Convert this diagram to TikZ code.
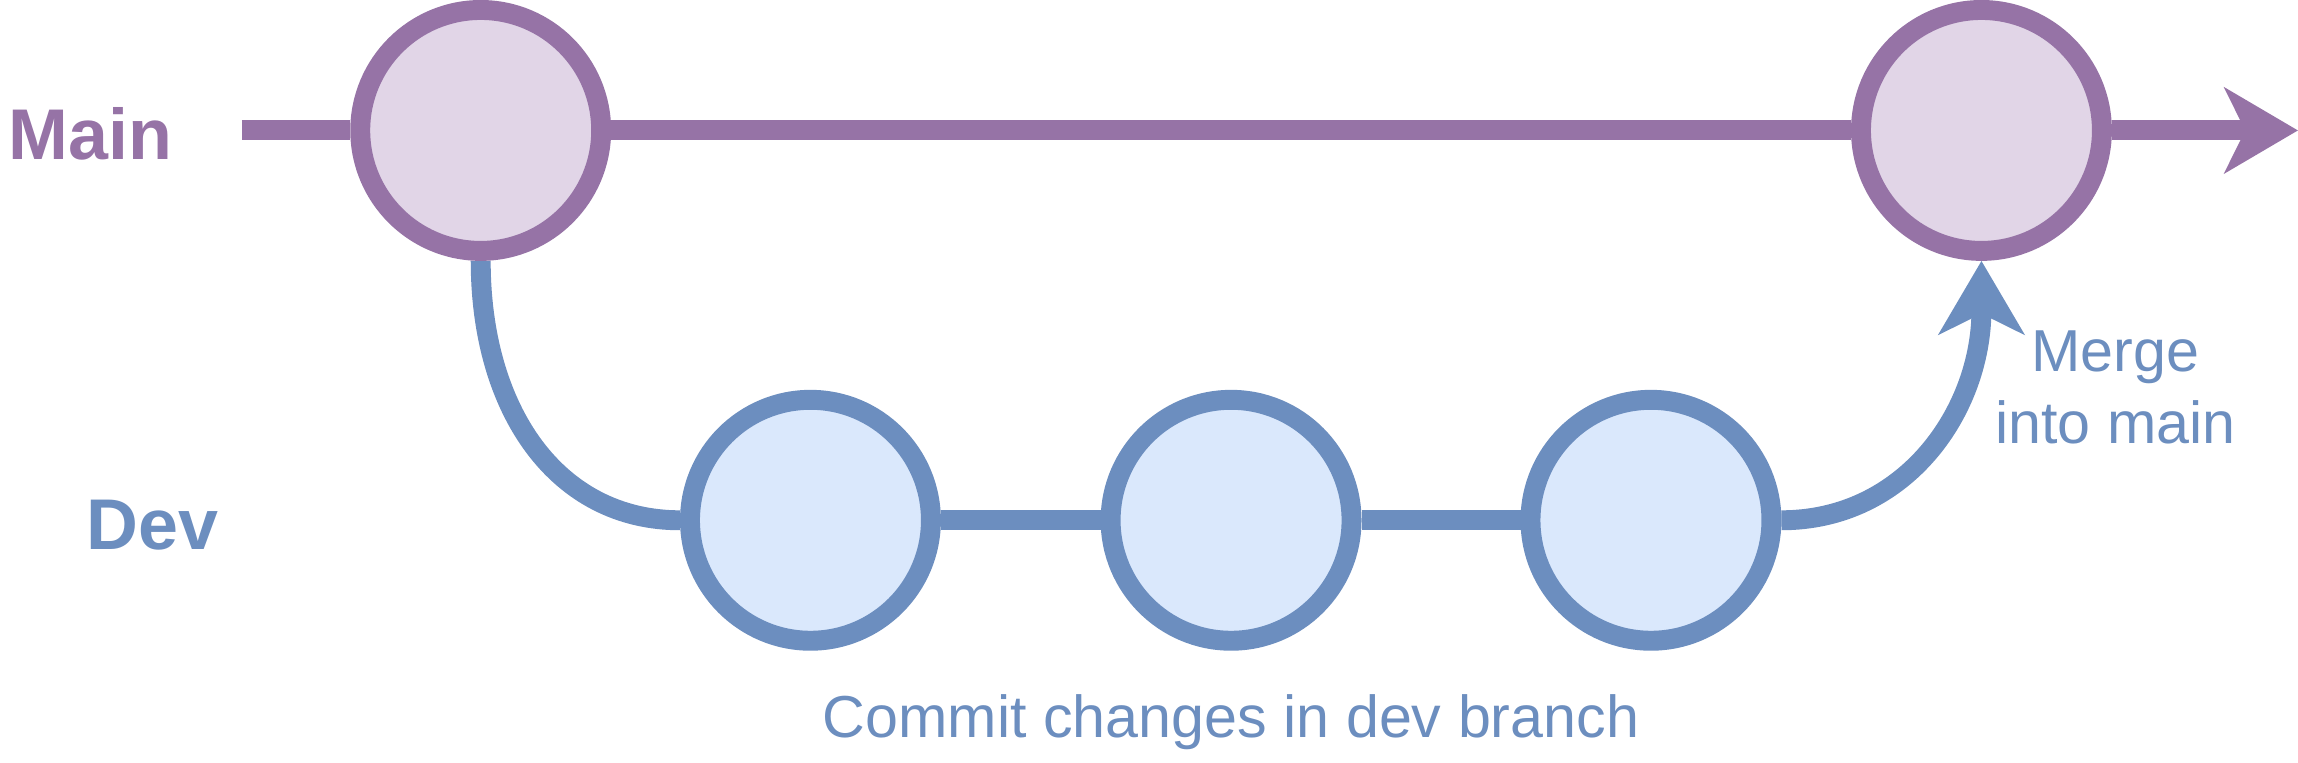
\documentclass[tikz,border=0pt]{standalone}
\usepackage{fontspec}
\setmainfont{Liberation Sans}
\usetikzlibrary{arrows.meta}
\usetikzlibrary{backgrounds}
\definecolor{mainpurple}{HTML}{9673A6}
\definecolor{mainfill}{HTML}{E1D5E7}
\definecolor{devblue}{HTML}{6C8EBF}
\definecolor{devfill}{HTML}{DAE8FC}
\tikzstyle{maincommit} = [circle, draw=mainpurple, fill=mainfill, line width=6.8pt, minimum size=82.2pt, inner sep=0pt]
\tikzstyle{devcommit} = [circle, draw=devblue, fill=devfill, line width=6.8pt, minimum size=82.2pt, inner sep=0pt]
\tikzstyle{mainline} = [draw=mainpurple, line width=6.8pt]
\tikzstyle{devline} = [draw=devblue, line width=6.8pt]
\tikzstyle{branchhead} = [-{Stealth[length=25pt, width=29pt, inset=7pt]}]
\tikzstyle{branchlabel} = [inner sep=0pt, font=\fontsize{24.5}{29}\selectfont\bfseries]
\tikzstyle{note} = [inner sep=0pt, text=devblue, font=\fontsize{20.2}{24.3}\selectfont]

\begin{document}
\begin{tikzpicture}[x=0.5pt,y=-0.5pt]

\useasboundingbox (0,0) rectangle (1568,520);

% branch names
\node[branchlabel, text=mainpurple, anchor=base west] (mainlabel) at (5.5,108.5) {Main};
\node[branchlabel, text=devblue, anchor=base west] (devlabel) at (58.7,374.6) {Dev};

% commits
\node[maincommit] (m1) at (328,89) {};
\node[maincommit] (m2) at (1352,89) {};

\node[devcommit] (d1) at (553,355) {};
\node[devcommit] (d2) at (840,355) {};
\node[devcommit] (d3) at (1126.5,355) {};

\coordinate (mstart) at (165,89);
\coordinate (mend) at (1568,89);

% branch lines behind the commits
\begin{scope}[on background layer]
\draw[mainline] (mstart) -- (m1) -- (m2);
\draw[mainline, branchhead] (m2) -- (mend);

\draw[devline] (d1) -- (d2) -- (d3);
\draw[devline] (m1.south) .. controls (328,280) and (380,355) .. (d1.west);
\draw[devline, branchhead] (d3.east) .. controls (1300.5,355) and (1352,280) .. (m2.south);
\end{scope}

\node[note, align=center, anchor=base] (mergenote) at (1443.5,302.3) {Merge\\into main};
\node[note, anchor=base] (commitnote) at (840,503.3) {Commit changes in dev branch};

\end{tikzpicture}
\end{document}
